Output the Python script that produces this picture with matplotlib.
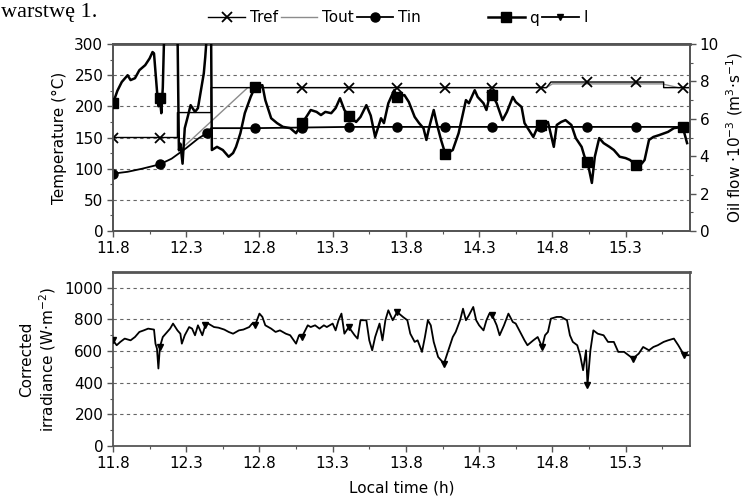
import numpy as np
import matplotlib
matplotlib.use('Agg')
import matplotlib.pyplot as plt
from matplotlib.ticker import MultipleLocator, FixedLocator

plt.rcParams['font.family'] = ['DejaVu Sans']
plt.rcParams['mathtext.fontset'] = 'dejavusans'
plt.rcParams['mathtext.default'] = 'regular'

# marker positions (h) shared by every series
mark_t = [11.80, 12.12, 12.44, 12.77, 13.09, 13.41, 13.74, 14.07, 14.39, 14.72, 15.04, 15.37, 15.69]

# reference temperature (degC)
tref_t = [11.80, 12.12, 12.24, 12.24, 12.47, 12.47, 13.09, 13.41, 13.74, 14.07, 14.39, 14.72,
          14.76, 14.79, 15.04, 15.37, 15.56, 15.56, 15.69, 15.73]
tref_v = [150, 150, 150, 190, 190, 230, 230, 230, 230, 230, 230, 230,
          230, 239, 239, 239, 239, 230, 230, 230]
tref_marks = [11.80, 12.12, 13.09, 13.41, 13.74, 14.07, 14.39, 14.72, 15.04, 15.37, 15.69]

# outlet temperature (degC)
tout_t = [12.25, 12.72, 14.76, 14.80, 15.55, 15.66, 15.73]
tout_v = [128, 230, 230, 236, 236, 230, 230]

# inlet temperature (degC)
tin_t = [11.80, 11.90, 12.00, 12.12, 12.20, 12.30, 12.38, 12.44, 12.47, 12.77, 13.09, 13.41,
         13.74, 14.07, 14.39, 14.72, 15.04, 15.37, 15.69, 15.73]
tin_v = [92, 95, 100, 107, 116, 133, 148, 157, 165, 165, 166, 167,
         167, 167, 167, 167, 167, 167, 167, 167]

# oil flow q (1e-3 m3/s)
q_t = [11.80, 11.83, 11.86, 11.90, 11.92, 11.95, 11.98, 12.02, 12.05, 12.07, 12.08, 12.10,
       12.11, 12.12, 12.13, 12.14, 12.15, 12.20, 12.24, 12.25, 12.26, 12.275, 12.29, 12.31,
       12.33, 12.36, 12.38, 12.40, 12.42, 12.43, 12.44, 12.47, 12.475, 12.51, 12.55, 12.59,
       12.62, 12.64, 12.67, 12.70, 12.74, 12.77, 12.82, 12.84, 12.88, 12.92, 12.96, 13.01,
       13.05, 13.09, 13.12, 13.15, 13.19, 13.22, 13.25, 13.29, 13.32, 13.35, 13.38, 13.41,
       13.46, 13.49, 13.53, 13.56, 13.59, 13.63, 13.65, 13.68, 13.72, 13.74, 13.79, 13.82,
       13.86, 13.89, 13.92, 13.94, 13.96, 13.99, 14.01, 14.04, 14.07, 14.12, 14.16, 14.18,
       14.21, 14.23, 14.27, 14.29, 14.33, 14.35, 14.37, 14.39, 14.42, 14.46, 14.49, 14.53,
       14.55, 14.59, 14.61, 14.64, 14.67, 14.70, 14.72, 14.77, 14.81, 14.83, 14.86, 14.89,
       14.93, 14.96, 15.00, 15.02, 15.04, 15.07, 15.09, 15.12, 15.15, 15.19, 15.22, 15.26,
       15.30, 15.33, 15.37, 15.41, 15.43, 15.46, 15.49, 15.53, 15.59, 15.63, 15.69, 15.72]
q_v = [6.83, 7.50, 7.97, 8.33, 8.07, 8.17, 8.60, 8.87, 9.23, 9.57, 9.50, 7.53,
       6.67, 7.10, 6.30, 7.67, 10.7, 11.3, 11.0, 4.33, 4.67, 3.60, 5.50, 6.10,
       6.73, 6.37, 6.57, 7.50, 8.43, 9.30, 10.4, 10.4, 4.33, 4.50, 4.33, 3.97,
       4.17, 4.50, 5.23, 6.30, 7.17, 7.70, 7.80, 7.00, 6.03, 5.77, 5.57, 5.50,
       5.23, 5.77, 6.10, 6.47, 6.37, 6.20, 6.37, 6.30, 6.57, 7.10, 6.47, 6.17,
       5.83, 6.10, 6.73, 6.17, 5.03, 6.03, 5.77, 6.83, 7.53, 7.17, 7.27, 6.90,
       6.10, 5.77, 5.50, 4.87, 5.57, 6.47, 5.77, 4.87, 4.10, 4.33, 5.23, 5.93,
       7.00, 6.83, 7.53, 7.17, 6.83, 6.47, 7.17, 7.27, 6.83, 5.93, 6.37, 7.17,
       6.90, 6.63, 5.77, 5.40, 5.03, 5.57, 5.67, 5.83, 4.50, 5.67, 5.83, 5.93,
       5.67, 4.97, 4.50, 3.97, 3.70, 2.57, 3.97, 4.97, 4.70, 4.50, 4.33, 3.97,
       3.90, 3.80, 3.53, 3.60, 3.80, 4.87, 5.03, 5.13, 5.30, 5.50, 5.57, 4.70]

# corrected irradiance I (W/m2)
irr_t = [11.80, 11.825, 11.85, 11.88, 11.92, 11.95, 11.98, 12.01, 12.04, 12.08, 12.09, 12.10,
         12.11, 12.12, 12.14, 12.17, 12.19, 12.21, 12.24, 12.26, 12.27, 12.29, 12.32, 12.34,
         12.36, 12.38, 12.41, 12.43, 12.45, 12.49, 12.52, 12.56, 12.59, 12.62, 12.66, 12.69,
         12.73, 12.75, 12.77, 12.80, 12.82, 12.84, 12.88, 12.91, 12.94, 12.98, 13.01, 13.05,
         13.07, 13.09, 13.13, 13.15, 13.18, 13.21, 13.24, 13.26, 13.30, 13.32, 13.34, 13.36,
         13.38, 13.41, 13.45, 13.47, 13.49, 13.53, 13.55, 13.57, 13.59, 13.62, 13.64, 13.66,
         13.68, 13.71, 13.74, 13.78, 13.81, 13.83, 13.86, 13.88, 13.91, 13.93, 13.95, 13.97,
         13.99, 14.02, 14.04, 14.06, 14.09, 14.12, 14.14, 14.17, 14.19, 14.21, 14.23, 14.26,
         14.28, 14.30, 14.33, 14.35, 14.37, 14.39, 14.42, 14.44, 14.47, 14.50, 14.53, 14.55,
         14.58, 14.61, 14.63, 14.67, 14.70, 14.73, 14.75, 14.77, 14.79, 14.83, 14.86, 14.90,
         14.92, 14.94, 14.97, 14.99, 15.01, 15.03, 15.04, 15.06, 15.08, 15.11, 15.15, 15.18,
         15.22, 15.25, 15.29, 15.32, 15.35, 15.39, 15.42, 15.46, 15.49, 15.52, 15.56, 15.59,
         15.63, 15.66, 15.70, 15.73]
irr_v = [668, 637, 658, 679, 668, 689, 721, 731, 742, 736, 647, 616,
         490, 626, 689, 721, 742, 774, 731, 710, 647, 700, 752, 742,
         700, 763, 700, 763, 774, 752, 748, 736, 721, 710, 731, 736,
         752, 774, 763, 837, 816, 763, 742, 721, 731, 710, 700, 647,
         700, 689, 763, 752, 763, 742, 763, 752, 774, 731, 795, 837,
         710, 752, 700, 679, 795, 795, 668, 605, 689, 774, 668, 795,
         858, 795, 847, 816, 795, 710, 658, 668, 595, 689, 795, 763,
         658, 563, 542, 521, 605, 689, 721, 795, 868, 795, 826, 879,
         795, 763, 731, 795, 837, 826, 763, 700, 763, 837, 784, 774,
         721, 668, 637, 668, 689, 626, 700, 721, 805, 816, 816, 795,
         700, 658, 637, 574, 479, 605, 385, 605, 731, 710, 700, 658,
         658, 595, 595, 574, 553, 584, 626, 605, 626, 637, 658, 668,
         679, 637, 574, 574]


def mark_idx(t, marks):
    t = np.asarray(t)
    return [int(np.argmin(np.abs(t - m))) for m in marks]


fs = 11
fig = plt.figure(figsize=(7.49, 4.99), dpi=100)
ax1 = fig.add_axes([113/749, 1-231/499, 577/749, 187/499])
ax2 = fig.add_axes([113/749, 1-446/499, 577/749, 174/499])
ax1r = ax1.twinx()

spine_c = '#555555'
grid_kw = dict(color='#666666', linestyle=(0, (3, 3)), linewidth=0.8)

# --- top panel
l_tout, = ax1.plot(tout_t, tout_v, color='#8c8c8c', lw=1.0, zorder=2)
l_tref, = ax1.plot(tref_t, tref_v, color='black', lw=1.0, marker='x', ms=7, mew=1.3,
                   markevery=mark_idx(tref_t, tref_marks), zorder=3)
l_tin, = ax1.plot(tin_t, tin_v, color='black', lw=1.3, marker='o', ms=6.5,
                  markevery=mark_idx(tin_t, mark_t), zorder=3)
l_q, = ax1r.plot(q_t, q_v, color='black', lw=1.8, marker='s', ms=7,
                 markevery=mark_idx(q_t, mark_t), zorder=3)

ax1.set_xlim(11.8, 15.74)
ax1.set_ylim(0, 300)
ax1r.set_ylim(0, 10)
for y in [50, 100, 150, 200, 250]:
    ax1.axhline(y, **grid_kw, zorder=0)
ax1.yaxis.set_major_locator(MultipleLocator(50))
ax1.yaxis.set_minor_locator(MultipleLocator(25))
ax1r.yaxis.set_major_locator(MultipleLocator(2))
ax1r.yaxis.set_minor_locator(MultipleLocator(1))
ax1.set_ylabel('Temperature (°C)', fontsize=fs, labelpad=5)
ax1r.set_ylabel('Oil flow ·10$^{-3}$ (m$^{3}$·s$^{-1}$)', fontsize=fs, labelpad=4)

# --- bottom panel
l_irr, = ax2.plot(irr_t, irr_v, color='black', lw=1.3, marker='v', ms=5,
                  markevery=mark_idx(irr_t, mark_t), zorder=3)
ax2.set_xlim(11.8, 15.74)
ax2.set_ylim(0, 1100)
for y in [200, 400, 600, 800, 1000]:
    ax2.axhline(y, **grid_kw, zorder=0)
ax2.yaxis.set_major_locator(FixedLocator([0, 200, 400, 600, 800, 1000]))
ax2.yaxis.set_minor_locator(FixedLocator([100, 300, 500, 700, 900]))
ax2.set_ylabel('Corrected\nirradiance (W·m$^{-2}$)', fontsize=fs, labelpad=5, linespacing=1.2)
ax2.set_xlabel('Local time (h)', fontsize=fs, labelpad=7)

xt = [11.8, 12.3, 12.8, 13.3, 13.8, 14.3, 14.8, 15.3]
for ax in (ax1, ax2):
    ax.set_xticks(xt)
    ax.set_xticklabels([f'{v:.1f}' for v in xt])
    ax.xaxis.set_minor_locator(FixedLocator([v + 0.25 for v in xt]))

for ax in (ax1, ax1r, ax2):
    for s in ax.spines.values():
        s.set_color(spine_c)
        s.set_linewidth(1.3)
    ax.tick_params(which='major', direction='out', length=4, width=1, colors=spine_c,
                   labelcolor='black', labelsize=fs, pad=3)
    ax.tick_params(which='minor', direction='out', length=2.5, width=0.8, colors=spine_c)
ax1.spines['top'].set_linewidth(2)
ax2.spines['top'].set_linewidth(2)

# --- legends above the top panel
leg_kw = dict(frameon=False, fontsize=fs, handlelength=2.4, handletextpad=0.3,
              columnspacing=0.2, borderaxespad=0)
fig.legend([l_tref, l_tout, l_tin], ['Tref', 'Tout', 'Tin'], loc='center',
           bbox_to_anchor=(0.42, 1-18/499), ncol=3, **leg_kw)
fig.legend([l_q, l_irr], ['q', 'I'], loc='center',
           bbox_to_anchor=(0.718, 1-18/499), ncol=2, **leg_kw)

fig.text(0.002, 1-17/499, 'warstwę 1.', family=['Liberation Serif', 'DejaVu Serif'],
         fontsize=16, va='baseline')

fig.savefig('out.png', dpi=100)
